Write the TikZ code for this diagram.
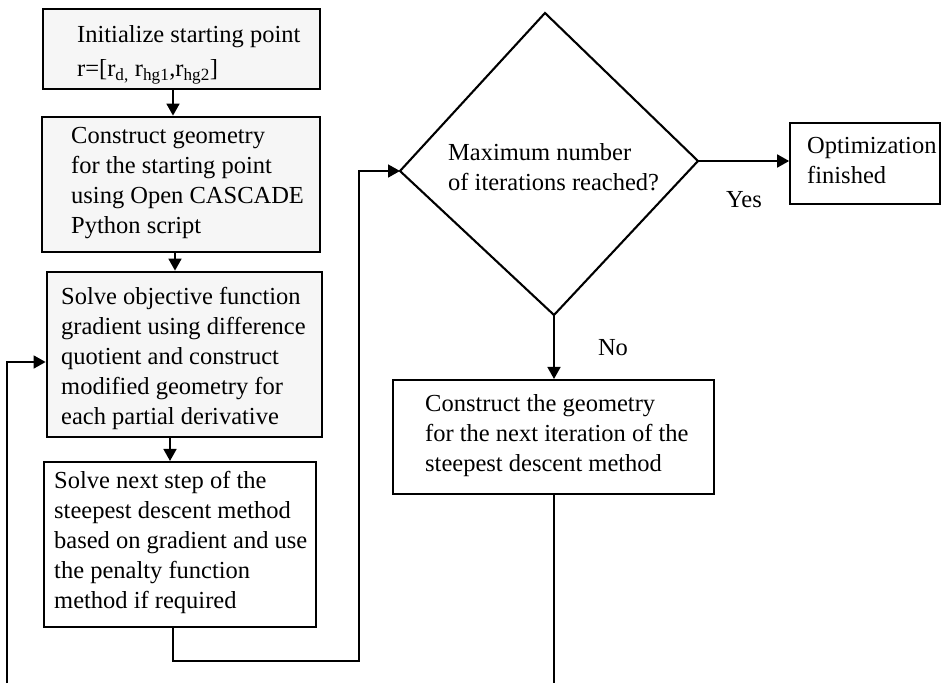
\documentclass[tikz,border=0pt]{standalone}
\usepackage{fontspec}
\setmainfont{Liberation Serif}
\usetikzlibrary{arrows.meta}
\definecolor{boxgrey}{HTML}{F6F6F6}
\begin{document}
\begin{tikzpicture}[x=1pt,y=-1pt,
  box/.style={draw=black, line width=1.7pt, rectangle, inner sep=0pt},
  thickbox/.style={box, line width=2.8pt},
  greybox/.style={fill=boxgrey},
  txt/.style={align=left, inner sep=0pt, anchor=west, font=\fontsize{24.5}{30}\selectfont},
  arr/.style={line width=1.7pt, -{Triangle[length=12pt,width=13pt]}},
  ln/.style={line width=1.7pt}]
\useasboundingbox (0,0) rectangle (942,683);

% boxes
\node[box, greybox, minimum width=277pt, minimum height=80pt] (b1) at (181.5,49) {};
\node[thickbox, greybox, minimum width=278pt, minimum height=135pt] (b2) at (181,184.5) {};
\node[thickbox, greybox, minimum width=275pt, minimum height=165pt] (b3) at (184.5,354.5) {};
\node[box, line width=2.1pt, minimum width=272pt, minimum height=165pt] (b4) at (180,544.5) {};
\node[box, line width=2.1pt, minimum width=321pt, minimum height=114pt] (c) at (553.5,437) {};
\node[box, minimum width=150pt, minimum height=81pt] (opt) at (865,163.5) {};

% diamond
\coordinate (dT) at (545,13);
\coordinate (dL) at (400,171);
\coordinate (dR) at (698,161);
\coordinate (dB) at (554,315);
\draw[line width=2.1pt, line join=miter] (dT) -- (dR) -- (dB) -- (dL) -- cycle;

% texts
\node[txt] (t1) at (77,55) {Initialize starting point\\[4pt]r=[r\textsubscript{d,} r\textsubscript{hg1},r\textsubscript{hg2}]};
\node[txt] (t2) at (71,183) {Construct geometry\\for the starting point\\using Open CASCADE\\Python script};
\node[txt] (t3) at (61,358) {Solve objective function\\gradient using difference\\quotient and construct\\modified geometry for\\each partial derivative};
\node[txt] (t4) at (54,542) {Solve next step of the\\steepest descent method\\based on gradient and use\\the penalty function\\method if required};
\node[txt] (tc) at (425,436) {Construct the geometry\\for the next iteration of the\\steepest descent method};
\node[txt] (topt) at (807,161) {Optimization\\finished};
\node[txt] (td) at (448,167) {Maximum number\\of iterations reached?};
\node[txt, anchor=center] (yes) at (744,200) {Yes};
\node[txt, anchor=center] (no) at (613,348) {No};

% connector coordinates
\coordinate (ax1) at (173,0);
\coordinate (ax2) at (175,0);
\coordinate (ax3) at (170,0);
\coordinate (p1) at (173,661);
\coordinate (p2) at (359,661);
\coordinate (p3) at (359,171);
\coordinate (q1) at (554,683);
\coordinate (q2) at (7,683);
\coordinate (q3) at (7,362);

% connectors
\draw[arr] (b1.south -| ax1) -- (b2.north -| ax1);
\draw[arr] (b2.south -| ax2) -- (b3.north -| ax2);
\draw[arr] (b3.south -| ax3) -- (b4.north -| ax3);
\draw[arr] (b4.south -| p1) -- (p1) -- (p2) -- (p3) -- (dL);
\draw[arr] (dR) -- (opt.west |- dR);
\draw[arr] (dB) -- (c.north -| dB);
\draw[ln] (c.south -| q1) -- (q1);
\draw[arr] (q2) -- (q3) -- (b3.west |- q3);
\end{tikzpicture}
\end{document}
